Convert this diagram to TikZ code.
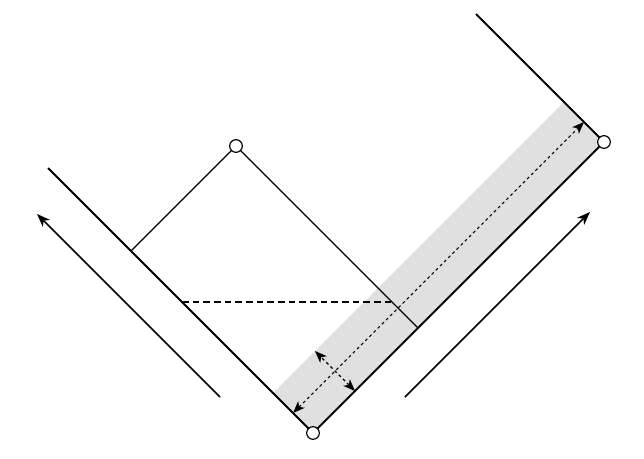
\documentclass[tikz,border=0pt]{standalone}
\usetikzlibrary{calc,arrows.meta}
\tikzset{
	vertex/.style={draw,circle,fill=white,inner sep=0pt,minimum size=9.5pt,line width=0.9pt},
	wall/.style={line width=1.5pt},
	side/.style={line width=1pt},
	band/.style={fill=black!12},
	flow/.style={line width=1.2pt,-{Stealth[length=10pt,width=7.5pt,inset=3pt]}},
	twoway/.style={line width=0.8pt,dash pattern=on 2.2pt off 2.2pt,{Stealth[length=9pt,width=7pt,inset=2.5pt]}-{Stealth[length=9pt,width=7pt,inset=2.5pt]}},
	level/.style={line width=1.2pt,dash pattern=on 5pt off 3pt}
}

\begin{document}
\begin{tikzpicture}[x=0.75pt,y=-0.75pt]
	\useasboundingbox (0,0) rectangle (644,458);
	
	\def\w{40}
	\def\h{20}
	
	%Sommets
	\coordinate (B) at (313,433);
	\coordinate (R) at (604,142);
	\coordinate (T) at (236,146);
	\coordinate (L) at ($(B)+(-265,-265)$);
	\coordinate (U) at ($(R)+(-128,-128)$);
	\coordinate (A) at ($(T)+(-105,105)$);
	\coordinate (C) at ($(T)+(182,182)$);
	
	%Bande
	\fill[band] (B) -- (R) -- ($(R)+(-\w,-\w)$) -- ($(B)+(-\w,-\w)$) -- cycle;
	
	%Murs
	\draw[wall] (L) -- (B) -- (R) -- (U);
	\draw[side] (A) -- (T) -- (C);
	
	%Niveau
	\coordinate (N1) at (182,302);
	\coordinate (N2) at (392,302);
	\draw[level] (N1) -- (N2);
	
	%Fleches dans la bande
	\draw[twoway] ($(B)+(-\h,-\h)$) -- ($(R)+(-\h,-\h)$);
	\coordinate (S) at ($(B)+(42,-42)$);
	\draw[twoway] (S) -- ($(S)+(-\w,-\w)$);
	
	%Fleches exterieures
	\coordinate (F1) at (220,397);
	\coordinate (F2) at (405,397);
	\draw[flow] (F1) -- ++(-183,-183);
	\draw[flow] (F2) -- ++(185,-185);
	
	%Points
	\foreach \p in {B,R,T} {
		\node[vertex] at (\p) {};
	}
	
\end{tikzpicture}
\end{document}
